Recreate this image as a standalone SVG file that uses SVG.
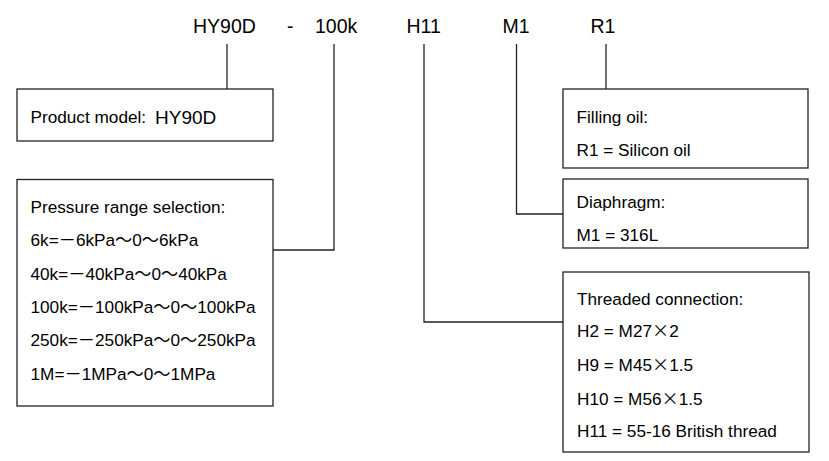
<svg xmlns="http://www.w3.org/2000/svg" width="829" height="461" viewBox="0 0 829 461">
<style>
text{font-family:"Liberation Sans",Arial,sans-serif;fill:#000}
.t{font-size:19.5px}
.b{font-size:17.2px}
.w{font-family:"Noto Sans CJK SC","Liberation Sans",sans-serif;font-feature-settings:"fwid"}
.box{fill:#fff;stroke:#222;stroke-width:1.3}
.c{fill:none;stroke:#222;stroke-width:1.3}
</style>
<rect width="829" height="461" fill="#fff"/>
<g id="code">
<text class="t" x="193" y="33">HY90D</text>
<text class="t" x="287" y="33">-</text>
<text class="t" x="315" y="33">100k</text>
<text class="t" x="406.5" y="33">H11</text>
<text class="t" x="502.5" y="33">M1</text>
<text class="t" x="590.5" y="33">R1</text>
</g>
<g id="connectors">
<path class="c" d="M227,44V89"/>
<path class="c" d="M334,44V250H273"/>
<path class="c" d="M424,44V322H563"/>
<path class="c" d="M516.5,44V214H563"/>
<path class="c" d="M606,44V89"/>
</g>
<g id="product-model">
<rect class="box" x="17" y="89" width="256" height="52"/>
<text class="b" x="30.5" y="123">Product model:</text>
<text x="155" y="123.5" style="font-size:19px">HY90D</text>
</g>
<g id="pressure-range">
<rect class="box" x="17" y="179.5" width="256" height="226.5"/>
<text class="b" x="30.5" y="213.3">Pressure range selection:</text>
<text class="b" x="30.5" y="245.7">6k=<tspan class="w">－</tspan>6kPa<tspan class="w">～</tspan>0<tspan class="w">～</tspan>6kPa</text>
<text class="b" x="30.5" y="279.5">40k=<tspan class="w">－</tspan>40kPa<tspan class="w">～</tspan>0<tspan class="w">～</tspan>40kPa</text>
<text class="b" x="30.5" y="313.3">100k=<tspan class="w">－</tspan>100kPa<tspan class="w">～</tspan>0<tspan class="w">～</tspan>100kPa</text>
<text class="b" x="30.5" y="345.7">250k=<tspan class="w">－</tspan>250kPa<tspan class="w">～</tspan>0<tspan class="w">～</tspan>250kPa</text>
<text class="b" x="30.5" y="379.5">1M=<tspan class="w">－</tspan>1MPa<tspan class="w">～</tspan>0<tspan class="w">～</tspan>1MPa</text>
</g>
<g id="filling-oil">
<rect class="box" x="563" y="89" width="245" height="79"/>
<text class="b" x="576.5" y="123.3">Filling oil:</text>
<text class="b" x="576.5" y="155.5">R1 = Silicon oil</text>
</g>
<g id="diaphragm">
<rect class="box" x="563" y="179" width="245" height="69"/>
<text class="b" x="576.5" y="208">Diaphragm:</text>
<text class="b" x="576.5" y="241">M1 = 316L</text>
</g>
<g id="threaded-connection">
<rect class="box" x="563" y="272" width="246" height="180"/>
<text class="b" x="577" y="305">Threaded connection:</text>
<text class="b" x="577" y="337">H2 = M27<tspan class="w">×</tspan>2</text>
<text class="b" x="577" y="371">H9 = M45<tspan class="w">×</tspan>1.5</text>
<text class="b" x="577" y="405">H10 = M56<tspan class="w">×</tspan>1.5</text>
<text class="b" x="577" y="437">H11 = 55-16 British thread</text>
</g>
</svg>
